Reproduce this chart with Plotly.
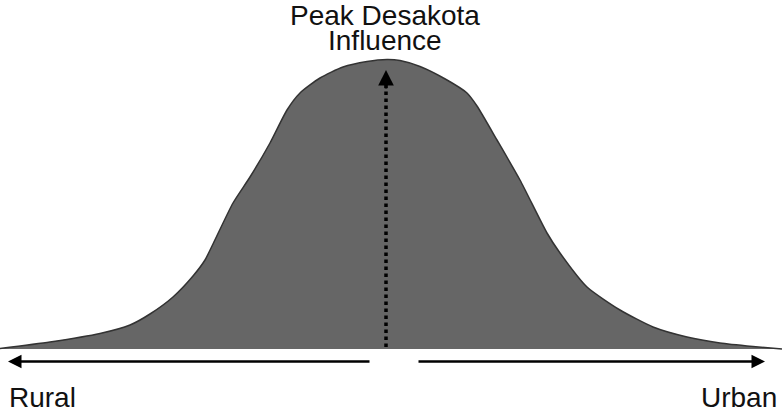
import plotly.graph_objects as go

# Position along the rural-urban continuum (0 = rural edge, 782 = urban edge)
position = [0, 50, 100, 130, 150, 173, 193, 205, 213, 233, 250, 270, 287, 300, 320, 343, 367,
            387, 400, 420, 447, 467, 477, 497, 520, 547, 560, 587, 620, 653, 687, 720, 753, 782]
# Desakota influence (height of the bell)
influence = [0.5, 7, 15.5, 24, 35, 52, 73, 89, 105, 146, 172, 206, 239, 256, 271, 282, 287.5,
             289.5, 288.5, 282.5, 269, 256, 243, 209, 169, 116, 96, 62, 39, 22, 12, 6, 2.5, 0]

peak_x = 386
peak_tip = 279
arrow_level = -12.5
left_arrow = (371, 8)
right_arrow = (417, 765)

title_lines = ["Peak Desakota", "Influence"]
end_labels = ["Rural", "Urban"]

FONT = "Liberation Sans, Arial, Helvetica, sans-serif"

fig = go.Figure()
fig.add_trace(go.Scatter(
    x=position, y=influence, mode="lines", line=dict(shape="spline", smoothing=0.6,
                                                    color="#333333", width=1.5),
    fill="tozeroy", fillcolor="#666666", hoverinfo="skip", showlegend=False))

# dotted shaft of the peak arrow
fig.add_trace(go.Scatter(
    x=[peak_x, peak_x], y=[2, peak_tip - 14], mode="lines",
    line=dict(color="black", width=3.5, dash="dot"), hoverinfo="skip", showlegend=False))

# arrow head for peak
fig.add_annotation(x=peak_x, y=peak_tip, ax=peak_x, ay=peak_tip - 20, xref="x", yref="y",
                   axref="x", ayref="y", text="", showarrow=True, arrowhead=2,
                   arrowsize=1.2, arrowwidth=2.6, arrowcolor="black")

# bottom arrows
fig.add_annotation(x=left_arrow[1], y=arrow_level, ax=left_arrow[0], ay=arrow_level,
                   xref="x", yref="y", axref="x", ayref="y", text="", showarrow=True,
                   arrowhead=2, arrowsize=1.08, arrowwidth=2.5, arrowcolor="black")
fig.add_annotation(x=right_arrow[1], y=arrow_level, ax=right_arrow[0], ay=arrow_level,
                   xref="x", yref="y", axref="x", ayref="y", text="", showarrow=True,
                   arrowhead=2, arrowsize=1.08, arrowwidth=2.5, arrowcolor="black")

txt = dict(showarrow=False, yanchor="middle", borderpad=0,
           font=dict(family=FONT, size=28, color="#111111"))
fig.add_annotation(x=385, y=333.5, text=title_lines[0], xanchor="center", **txt)
fig.add_annotation(x=385, y=309, text=title_lines[1], xanchor="center", **txt)
fig.add_annotation(x=8, y=-48, text=end_labels[0], xanchor="left", **txt)
fig.add_annotation(x=778, y=-48, text=end_labels[1], xanchor="right", **txt)

fig.update_xaxes(range=[0, 782], visible=False, fixedrange=True)
fig.update_yaxes(range=[-63, 349], visible=False, fixedrange=True)
fig.update_layout(width=782, height=412, margin=dict(l=0, r=0, t=0, b=0),
                  plot_bgcolor="white", paper_bgcolor="white")

fig.write_html("out.html", config={"displayModeBar": False},
               post_script="document.body.style.margin='0';document.body.style.overflow='hidden';")
